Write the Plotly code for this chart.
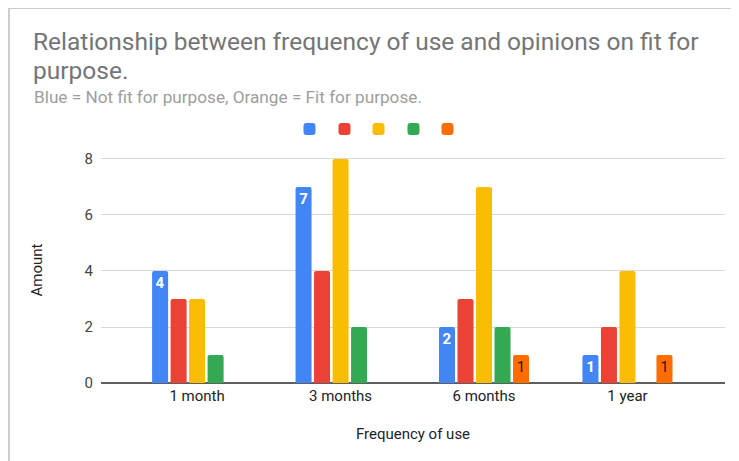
import plotly.graph_objects as go

categories = ["1 month", "3 months", "6 months", "1 year"]
blue_vals = [4, 7, 2, 1]
red_vals = [3, 4, 3, 2]
yellow_vals = [3, 8, 7, 4]
green_vals = [1, 2, 2, None]
orange_vals = [None, None, 1, 1]
y_ticks = [0, 2, 4, 6, 8]

# page has an 8px body margin, so the figure is 8px smaller and all positions shifted
OFF = 8
W, H = 739 - OFF, 461 - OFF
L, R, T, B = 93, 14, 149, 78


def px_x(px):
    return (px - OFF - L) / (W - L - R)


def px_y(py):
    return (H - B - (py - OFF)) / (H - T - B)


fig = go.Figure()

series = [
    ("blue", blue_vals, "#4285F4", True, "#ffffff", 309.5),
    ("red", red_vals, "#EA4335", False, None, 344.5),
    ("yellow", yellow_vals, "#FBBC04", False, None, 378.5),
    ("green", green_vals, "#34A853", False, None, 413.5),
    ("orange", orange_vals, "#FF6D01", True, "#2a1a0c", 447.5),
]

legends = {}
for i, (name, vals, color, labels, tcolor, lx) in enumerate(series):
    lname = "legend" if i == 0 else f"legend{i + 1}"
    legends[lname] = dict(
        orientation="h", x=px_x(lx - 20), xanchor="left", y=px_y(129), yanchor="middle",
        itemwidth=30, font=dict(size=12), bgcolor="rgba(0,0,0,0)", borderwidth=0,
    )
    kw = {}
    if labels:
        kw = dict(
            text=[("" if v is None else str(v)) for v in vals],
            textposition="inside",
            insidetextanchor="end",
            textangle=0,
            constraintext="none",
            textfont=dict(family="Roboto", size=15, color=tcolor,
                          weight="bold" if name == "blue" else "normal"),
        )
    fig.add_trace(go.Bar(
        x=categories, y=vals, name=" ", legend=lname,
        marker=dict(color=color, cornerradius=2.5, line=dict(width=0)),
        hoverinfo="skip", **kw))

shapes = [
    dict(type="line", xref="paper", yref="paper", x0=px_x(9), x1=px_x(739), y0=px_y(8), y1=px_y(8),
         line=dict(color="#bdbdbd", width=1.5)),
    dict(type="line", xref="paper", yref="paper", x0=px_x(9), x1=px_x(9), y0=px_y(8), y1=px_y(461),
         line=dict(color="#bdbdbd", width=1.5)),
]

fig.update_layout(
    width=W, height=H,
    margin=dict(l=L, r=R, t=T, b=B),
    paper_bgcolor="white", plot_bgcolor="white",
    font=dict(family="Roboto", size=15, color="#222222"),
    barmode="group", bargap=0.355, bargroupgap=0.135,
    title=dict(
        text=("<span style='font-size:24.5px'>Relationship between frequency of use and opinions on fit for</span>"
              "<br><span style='font-size:24.5px'>purpose.</span>"),
        font=dict(family="Roboto", size=22.5, color="#757575"),
        x=(33 - OFF) / W, xanchor="left", xref="container",
        y=1 - (50 - OFF) / H, yanchor="top", yref="container",
    ),
    annotations=[dict(
        text="Blue = Not fit for purpose, Orange = Fit for purpose.",
        xref="paper", yref="paper", x=px_x(31.5), y=px_y(97), xanchor="left", yanchor="middle",
        showarrow=False, font=dict(family="Roboto", size=17.2, color="#9e9e9e"),
    )],
    shapes=shapes,
    showlegend=True,
    xaxis=dict(
        range=[-0.67, 3.68], showgrid=False, showline=False, ticks="",
        tickfont=dict(family="Roboto", size=15, color="#222222"),
        ticklabelstandoff=2,
        title=dict(text="Frequency of use", font=dict(family="Roboto", size=15, color="#222222"), standoff=24),
        fixedrange=True,
    ),
    yaxis=dict(
        range=[0, 8.071], tickvals=y_ticks, ticktext=[str(v) for v in y_ticks],
        showgrid=True, gridcolor="#d9d9d9", gridwidth=1,
        zeroline=True, zerolinecolor="#5f5f5f", zerolinewidth=1.5,
        showline=False, ticks="", ticklabelstandoff=7,
        tickfont=dict(family="Roboto", size=15, color="#444444"),
        title=dict(text="Amount", font=dict(family="Roboto", size=15, color="#222222"), standoff=38),
        fixedrange=True,
    ),
    **legends,
)

fig.write_html("out.html")
